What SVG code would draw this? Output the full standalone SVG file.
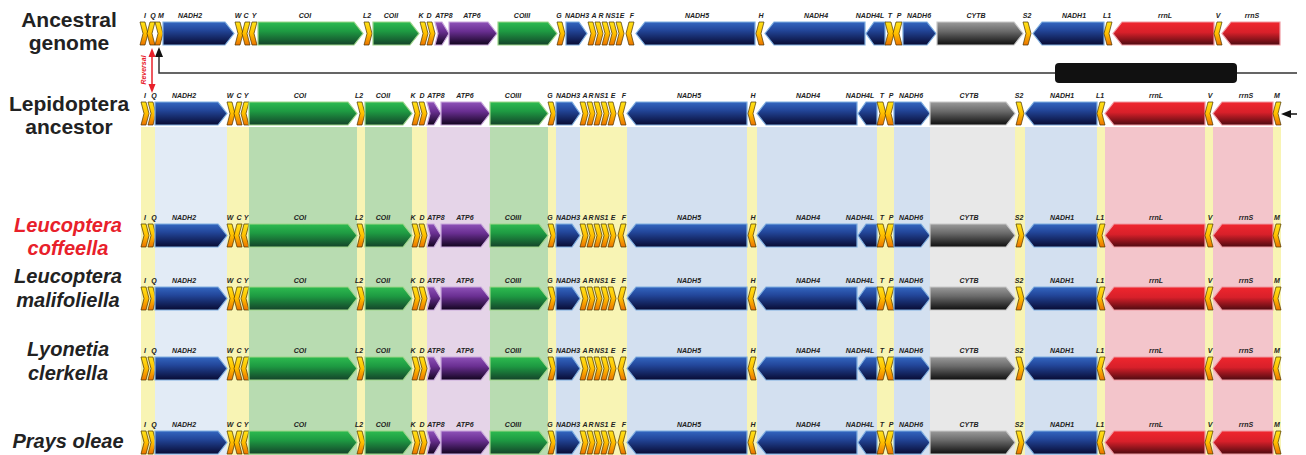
<svg xmlns="http://www.w3.org/2000/svg" width="1306" height="455" viewBox="0 0 1306 455">
<style>
.tr{fill:url(#gT);stroke:#4a3300;stroke-width:.7}
.bl{fill:url(#gB);stroke:#7eaee0;stroke-width:1.2}
.gr{fill:url(#gG);stroke:#9ed68a;stroke-width:1.2}
.pu{fill:url(#gP);stroke:#c9a8dc;stroke-width:1.2}
.gy{fill:url(#gY);stroke:#c8c8c8;stroke-width:1.2}
.rd{fill:url(#gR);stroke:#f09aa2;stroke-width:1.2}
.lab{font-family:"Liberation Sans",Arial,sans-serif;font-style:italic;font-weight:bold;font-size:7px;fill:#222;text-anchor:middle}
.sp{font-family:"Liberation Sans",Arial,sans-serif;font-weight:bold;font-size:20px;fill:#222;text-anchor:middle}
.big{font-size:21px}
.it{font-style:italic}
.bY{fill:#f8f4b4}.bB{fill:#d3e0f0}.bB2{fill:#e2ebf6}.bG{fill:#b8dcb1}.bP{fill:#e5d4e8}.bK{fill:#e8e8e8}.bR{fill:#f3c5cb}
</style>
<defs>
<linearGradient id="gT" x1="0" y1="0" x2="0" y2="1"><stop offset="0" stop-color="#ffe31a"/><stop offset="0.5" stop-color="#ffbf00"/><stop offset="1" stop-color="#ec7400"/></linearGradient>
<linearGradient id="gB" x1="0" y1="0" x2="0" y2="1"><stop offset="0" stop-color="#3366c0"/><stop offset="0.35" stop-color="#23479b"/><stop offset="1" stop-color="#080b33"/></linearGradient>
<linearGradient id="gG" x1="0" y1="0" x2="0" y2="1"><stop offset="0" stop-color="#2dbb50"/><stop offset="0.4" stop-color="#1e9a42"/><stop offset="1" stop-color="#14432a"/></linearGradient>
<linearGradient id="gP" x1="0" y1="0" x2="0" y2="1"><stop offset="0" stop-color="#8e52b8"/><stop offset="0.4" stop-color="#6a2f92"/><stop offset="1" stop-color="#12041e"/></linearGradient>
<linearGradient id="gY" x1="0" y1="0" x2="0" y2="1"><stop offset="0" stop-color="#9a9a9a"/><stop offset="0.4" stop-color="#6a6a6a"/><stop offset="1" stop-color="#0e0e0e"/></linearGradient>
<linearGradient id="gR" x1="0" y1="0" x2="0" y2="1"><stop offset="0" stop-color="#f0262e"/><stop offset="0.45" stop-color="#d8202a"/><stop offset="1" stop-color="#4e0a10"/></linearGradient>
<g id="shA">
<polygon class="tr" points="140,0 145,0 148,11.5 145,23 140,23 143,11.5"/>
<polygon class="tr" points="150,0 155,0 152,11.5 155,23 150,23 147,11.5"/>
<polygon class="tr" points="155,0 160,0 163,11.5 160,23 155,23 158,11.5"/>
<polygon class="bl" points="163,0 225,0 234,11.5 225,23 163,23"/>
<polygon class="tr" points="235,0 240,0 243,11.5 240,23 235,23 238,11.5"/>
<polygon class="tr" points="245,0 250,0 247,11.5 250,23 245,23 242,11.5"/>
<polygon class="tr" points="252,0 257,0 254,11.5 257,23 252,23 249,11.5"/>
<polygon class="gr" points="258,0 354,0 363,11.5 354,23 258,23"/>
<polygon class="tr" points="364,0 369,0 372,11.5 369,23 364,23 367,11.5"/>
<polygon class="gr" points="373,0 410,0 419,11.5 410,23 373,23"/>
<polygon class="tr" points="420,0 425,0 428,11.5 425,23 420,23 423,11.5"/>
<polygon class="tr" points="427,0 432,0 435,11.5 432,23 427,23 430,11.5"/>
<polygon class="pu" points="435,0 442,0 449,11.5 442,23 435,23 438,11.5"/>
<polygon class="pu" points="449,0 488,0 497,11.5 488,23 449,23"/>
<polygon class="gr" points="498,0 548,0 557,11.5 548,23 498,23"/>
<polygon class="tr" points="557,0 562,0 565,11.5 562,23 557,23 560,11.5"/>
<polygon class="bl" points="566,0 579,0 587,11.5 579,23 566,23"/>
<polygon class="tr" points="588,0 593,0 596,11.5 593,23 588,23 591,11.5"/>
<polygon class="tr" points="595,0 600,0 603,11.5 600,23 595,23 598,11.5"/>
<polygon class="tr" points="602,0 607,0 610,11.5 607,23 602,23 605,11.5"/>
<polygon class="tr" points="609,0 614,0 617,11.5 614,23 609,23 612,11.5"/>
<polygon class="tr" points="616,0 621,0 624,11.5 621,23 616,23 619,11.5"/>
<polygon class="tr" points="629,0 634,0 631,11.5 634,23 629,23 626,11.5"/>
<polygon class="bl" points="645,0 755,0 755,23 645,23 636,11.5"/>
<polygon class="tr" points="759,0 764,0 761,11.5 764,23 759,23 756,11.5"/>
<polygon class="bl" points="774,0 865,0 865,23 774,23 765,11.5"/>
<polygon class="bl" points="874,0 885,0 885,23 874,23 866,11.5"/>
<polygon class="tr" points="885,0 891,0 894,11.5 891,23 885,23 888,11.5"/>
<polygon class="tr" points="896,0 902,0 899,11.5 902,23 896,23 893,11.5"/>
<polygon class="bl" points="903,0 927,0 936,11.5 927,23 903,23"/>
<polygon class="gy" points="937,0 1014,0 1023,11.5 1014,23 937,23"/>
<polygon class="tr" points="1023,0 1028,0 1031,11.5 1028,23 1023,23 1026,11.5"/>
<polygon class="bl" points="1042,0 1104,0 1104,23 1042,23 1033,11.5"/>
<polygon class="tr" points="1107,0 1112,0 1109,11.5 1112,23 1107,23 1104,11.5"/>
<polygon class="rd" points="1122,0 1214,0 1214,23 1122,23 1113,11.5"/>
<polygon class="tr" points="1217,0 1222,0 1219,11.5 1222,23 1217,23 1214,11.5"/>
<polygon class="rd" points="1231,0 1280,0 1280,23 1231,23 1222,11.5"/>
</g>
<g id="shL">
<polygon class="tr" points="141,0 146,0 149,11.5 146,23 141,23 144,11.5"/>
<polygon class="tr" points="148,0 153,0 156,11.5 153,23 148,23 151,11.5"/>
<polygon class="bl" points="155,0 218,0 227,11.5 218,23 155,23"/>
<polygon class="tr" points="227,0 232,0 235,11.5 232,23 227,23 230,11.5"/>
<polygon class="tr" points="237,0 242,0 239,11.5 242,23 237,23 234,11.5"/>
<polygon class="tr" points="244,0 249,0 246,11.5 249,23 244,23 241,11.5"/>
<polygon class="gr" points="249,0 348,0 357,11.5 348,23 249,23"/>
<polygon class="tr" points="357,0 362,0 365,11.5 362,23 357,23 360,11.5"/>
<polygon class="gr" points="365,0 403,0 412,11.5 403,23 365,23"/>
<polygon class="tr" points="412,0 417,0 420,11.5 417,23 412,23 415,11.5"/>
<polygon class="tr" points="419,0 424,0 427,11.5 424,23 419,23 422,11.5"/>
<polygon class="pu" points="427,0 434,0 441,11.5 434,23 427,23 430,11.5"/>
<polygon class="pu" points="441,0 481,0 490,11.5 481,23 441,23"/>
<polygon class="gr" points="490,0 539,0 548,11.5 539,23 490,23"/>
<polygon class="tr" points="548,0 553,0 556,11.5 553,23 548,23 551,11.5"/>
<polygon class="bl" points="556,0 572,0 580,11.5 572,23 556,23"/>
<polygon class="tr" points="580,0 585,0 588,11.5 585,23 580,23 583,11.5"/>
<polygon class="tr" points="587,0 592,0 595,11.5 592,23 587,23 590,11.5"/>
<polygon class="tr" points="594,0 599,0 602,11.5 599,23 594,23 597,11.5"/>
<polygon class="tr" points="601,0 606,0 609,11.5 606,23 601,23 604,11.5"/>
<polygon class="tr" points="608,0 613,0 616,11.5 613,23 608,23 611,11.5"/>
<polygon class="tr" points="621,0 626,0 623,11.5 626,23 621,23 618,11.5"/>
<polygon class="bl" points="636,0 747,0 747,23 636,23 627,11.5"/>
<polygon class="tr" points="751,0 756,0 753,11.5 756,23 751,23 748,11.5"/>
<polygon class="bl" points="766,0 857,0 857,23 766,23 757,11.5"/>
<polygon class="bl" points="866,0 877,0 877,23 866,23 858,11.5"/>
<polygon class="tr" points="877,0 883,0 886,11.5 883,23 877,23 880,11.5"/>
<polygon class="tr" points="888,0 894,0 891,11.5 894,23 888,23 885,11.5"/>
<polygon class="bl" points="894,0 921,0 930,11.5 921,23 894,23"/>
<polygon class="gy" points="930,0 1006,0 1015,11.5 1006,23 930,23"/>
<polygon class="tr" points="1016,0 1021,0 1024,11.5 1021,23 1016,23 1019,11.5"/>
<polygon class="bl" points="1034,0 1097,0 1097,23 1034,23 1025,11.5"/>
<polygon class="tr" points="1100,0 1105,0 1102,11.5 1105,23 1100,23 1097,11.5"/>
<polygon class="rd" points="1114,0 1205,0 1205,23 1114,23 1105,11.5"/>
<polygon class="tr" points="1208,0 1213,0 1210,11.5 1213,23 1208,23 1205,11.5"/>
<polygon class="rd" points="1222,0 1273,0 1273,23 1222,23 1213,11.5"/>
<polygon class="tr" points="1276,0 1281,0 1278,11.5 1281,23 1276,23 1273,11.5"/>
</g>
</defs>
<rect width="1306" height="455" fill="#fff"/>
<g id="bands">
<rect class="bY" x="141" y="127" width="14" height="328"/>
<rect class="bB2" x="155" y="127" width="72" height="328"/>
<rect class="bY" x="227" y="127" width="22" height="328"/>
<rect class="bG" x="249" y="127" width="108" height="328"/>
<rect class="bY" x="357" y="127" width="8" height="328"/>
<rect class="bG" x="365" y="127" width="47" height="328"/>
<rect class="bY" x="412" y="127" width="15" height="328"/>
<rect class="bP" x="427" y="127" width="63" height="328"/>
<rect class="bG" x="490" y="127" width="58" height="328"/>
<rect class="bY" x="548" y="127" width="8" height="328"/>
<rect class="bB" x="556" y="127" width="24" height="328"/>
<rect class="bY" x="580" y="127" width="47" height="328"/>
<rect class="bB" x="627" y="127" width="120" height="328"/>
<rect class="bY" x="747" y="127" width="10" height="328"/>
<rect class="bB" x="757" y="127" width="120" height="328"/>
<rect class="bY" x="877" y="127" width="17" height="328"/>
<rect class="bB" x="894" y="127" width="36" height="328"/>
<rect class="bK" x="930" y="127" width="85" height="328"/>
<rect class="bY" x="1015" y="127" width="10" height="328"/>
<rect class="bB" x="1025" y="127" width="72" height="328"/>
<rect class="bY" x="1097" y="127" width="8" height="328"/>
<rect class="bR" x="1105" y="127" width="100" height="328"/>
<rect class="bY" x="1205" y="127" width="8" height="328"/>
<rect class="bR" x="1213" y="127" width="60" height="328"/>
<rect class="bY" x="1273" y="127" width="8" height="328"/>
</g>
<g id="connectors">
<path d="M1297,73 H159 V56" fill="none" stroke="#333" stroke-width="1.5"/>
<polygon points="159,47 155,57 163,57" fill="#111"/>
<rect x="1055" y="63" width="182" height="20" rx="4" fill="#111"/>
<line x1="1297" y1="114" x2="1289" y2="114" stroke="#111" stroke-width="1.5"/>
<polygon points="1281,114 1291,110 1291,118" fill="#111"/>
<line x1="152" y1="55" x2="152" y2="86" stroke="#e8202a" stroke-width="1.5"/>
<polygon points="152,48 148.5,57 155.5,57" fill="#e8202a"/>
<polygon points="152,93 148.5,84 155.5,84" fill="#e8202a"/>
<text x="146" y="70" transform="rotate(-90 146 70)" class="lab" style="fill:#e8202a">Reversal</text>
</g>
<g id="row-ancestral">
<text class="sp big" x="69" y="27">Ancestral</text>
<text class="sp big" x="69" y="50">genome</text>
<use href="#shA" transform="translate(0,22)"/>
<text class="lab" y="18"><tspan x="145">I</tspan><tspan x="153">Q</tspan><tspan x="161">M</tspan><tspan x="190">NADH2</tspan><tspan x="238">W</tspan><tspan x="246">C</tspan><tspan x="254">Y</tspan><tspan x="305">COI</tspan><tspan x="367">L2</tspan><tspan x="391">COII</tspan><tspan x="421">K</tspan><tspan x="429">D</tspan><tspan x="444">ATP8</tspan><tspan x="472">ATP6</tspan><tspan x="522">COIII</tspan><tspan x="559">G</tspan><tspan x="577">NADH3</tspan><tspan x="594">A</tspan><tspan x="601">R</tspan><tspan x="608">N</tspan><tspan x="615">S1</tspan><tspan x="622">E</tspan><tspan x="632">F</tspan><tspan x="697">NADH5</tspan><tspan x="761">H</tspan><tspan x="816">NADH4</tspan><tspan x="870">NADH4L</tspan><tspan x="890">T</tspan><tspan x="899">P</tspan><tspan x="919">NADH6</tspan><tspan x="976">CYTB</tspan><tspan x="1027">S2</tspan><tspan x="1074">NADH1</tspan><tspan x="1107">L1</tspan><tspan x="1165">rrnL</tspan><tspan x="1218">V</tspan><tspan x="1252">rrnS</tspan></text>
</g>
<g id="row-lepidoptera">
<text class="sp big" x="69" y="111">Lepidoptera</text>
<text class="sp big" x="69" y="134">ancestor</text>
<use href="#shL" transform="translate(0,102)"/>
<text class="lab" y="98"><tspan x="145">I</tspan><tspan x="154">Q</tspan><tspan x="184">NADH2</tspan><tspan x="230">W</tspan><tspan x="239">C</tspan><tspan x="246">Y</tspan><tspan x="300">COI</tspan><tspan x="359">L2</tspan><tspan x="383">COII</tspan><tspan x="413">K</tspan><tspan x="422">D</tspan><tspan x="436">ATP8</tspan><tspan x="465">ATP6</tspan><tspan x="513">COIII</tspan><tspan x="550">G</tspan><tspan x="568">NADH3</tspan><tspan x="585">A</tspan><tspan x="591">R</tspan><tspan x="597">N</tspan><tspan x="604">S1</tspan><tspan x="613">E</tspan><tspan x="624">F</tspan><tspan x="689">NADH5</tspan><tspan x="753">H</tspan><tspan x="808">NADH4</tspan><tspan x="860">NADH4L</tspan><tspan x="882">T</tspan><tspan x="891">P</tspan><tspan x="911">NADH6</tspan><tspan x="969">CYTB</tspan><tspan x="1019">S2</tspan><tspan x="1062">NADH1</tspan><tspan x="1100">L1</tspan><tspan x="1156">rrnL</tspan><tspan x="1210">V</tspan><tspan x="1246">rrnS</tspan><tspan x="1277">M</tspan></text>
</g>
<g id="row-leucoptera-coffeella">
<text class="sp it" x="68" y="232" style="fill:#e8202a">Leucoptera</text>
<text class="sp it" x="68" y="255" style="fill:#e8202a">coffeella</text>
<use href="#shL" transform="translate(0,224)"/>
<text class="lab" y="220"><tspan x="145">I</tspan><tspan x="154">Q</tspan><tspan x="184">NADH2</tspan><tspan x="230">W</tspan><tspan x="239">C</tspan><tspan x="246">Y</tspan><tspan x="300">COI</tspan><tspan x="359">L2</tspan><tspan x="383">COII</tspan><tspan x="413">K</tspan><tspan x="422">D</tspan><tspan x="436">ATP8</tspan><tspan x="465">ATP6</tspan><tspan x="513">COIII</tspan><tspan x="550">G</tspan><tspan x="568">NADH3</tspan><tspan x="585">A</tspan><tspan x="591">R</tspan><tspan x="597">N</tspan><tspan x="604">S1</tspan><tspan x="613">E</tspan><tspan x="624">F</tspan><tspan x="689">NADH5</tspan><tspan x="753">H</tspan><tspan x="808">NADH4</tspan><tspan x="860">NADH4L</tspan><tspan x="882">T</tspan><tspan x="891">P</tspan><tspan x="911">NADH6</tspan><tspan x="969">CYTB</tspan><tspan x="1019">S2</tspan><tspan x="1062">NADH1</tspan><tspan x="1100">L1</tspan><tspan x="1156">rrnL</tspan><tspan x="1210">V</tspan><tspan x="1246">rrnS</tspan><tspan x="1277">M</tspan></text>
</g>
<g id="row-leucoptera-malifoliella">
<text class="sp it" x="68" y="283">Leucoptera</text>
<text class="sp it" x="68" y="307">malifoliella</text>
<use href="#shL" transform="translate(0,287)"/>
<text class="lab" y="283"><tspan x="145">I</tspan><tspan x="154">Q</tspan><tspan x="184">NADH2</tspan><tspan x="230">W</tspan><tspan x="239">C</tspan><tspan x="246">Y</tspan><tspan x="300">COI</tspan><tspan x="359">L2</tspan><tspan x="383">COII</tspan><tspan x="413">K</tspan><tspan x="422">D</tspan><tspan x="436">ATP8</tspan><tspan x="465">ATP6</tspan><tspan x="513">COIII</tspan><tspan x="550">G</tspan><tspan x="568">NADH3</tspan><tspan x="585">A</tspan><tspan x="591">R</tspan><tspan x="597">N</tspan><tspan x="604">S1</tspan><tspan x="613">E</tspan><tspan x="624">F</tspan><tspan x="689">NADH5</tspan><tspan x="753">H</tspan><tspan x="808">NADH4</tspan><tspan x="860">NADH4L</tspan><tspan x="882">T</tspan><tspan x="891">P</tspan><tspan x="911">NADH6</tspan><tspan x="969">CYTB</tspan><tspan x="1019">S2</tspan><tspan x="1062">NADH1</tspan><tspan x="1100">L1</tspan><tspan x="1156">rrnL</tspan><tspan x="1210">V</tspan><tspan x="1246">rrnS</tspan><tspan x="1277">M</tspan></text>
</g>
<g id="row-lyonetia-clerkella">
<text class="sp it" x="68" y="356">Lyonetia</text>
<text class="sp it" x="68" y="380">clerkella</text>
<use href="#shL" transform="translate(0,357)"/>
<text class="lab" y="353"><tspan x="145">I</tspan><tspan x="154">Q</tspan><tspan x="184">NADH2</tspan><tspan x="230">W</tspan><tspan x="239">C</tspan><tspan x="246">Y</tspan><tspan x="300">COI</tspan><tspan x="359">L2</tspan><tspan x="383">COII</tspan><tspan x="413">K</tspan><tspan x="422">D</tspan><tspan x="436">ATP8</tspan><tspan x="465">ATP6</tspan><tspan x="513">COIII</tspan><tspan x="550">G</tspan><tspan x="568">NADH3</tspan><tspan x="585">A</tspan><tspan x="591">R</tspan><tspan x="597">N</tspan><tspan x="604">S1</tspan><tspan x="613">E</tspan><tspan x="624">F</tspan><tspan x="689">NADH5</tspan><tspan x="753">H</tspan><tspan x="808">NADH4</tspan><tspan x="860">NADH4L</tspan><tspan x="882">T</tspan><tspan x="891">P</tspan><tspan x="911">NADH6</tspan><tspan x="969">CYTB</tspan><tspan x="1019">S2</tspan><tspan x="1062">NADH1</tspan><tspan x="1100">L1</tspan><tspan x="1156">rrnL</tspan><tspan x="1210">V</tspan><tspan x="1246">rrnS</tspan><tspan x="1277">M</tspan></text>
</g>
<g id="row-prays-oleae">
<text class="sp it" x="68" y="448">Prays oleae</text>
<use href="#shL" transform="translate(0,431)"/>
<text class="lab" y="427"><tspan x="145">I</tspan><tspan x="154">Q</tspan><tspan x="184">NADH2</tspan><tspan x="230">W</tspan><tspan x="239">C</tspan><tspan x="246">Y</tspan><tspan x="300">COI</tspan><tspan x="359">L2</tspan><tspan x="383">COII</tspan><tspan x="413">K</tspan><tspan x="422">D</tspan><tspan x="436">ATP8</tspan><tspan x="465">ATP6</tspan><tspan x="513">COIII</tspan><tspan x="550">G</tspan><tspan x="568">NADH3</tspan><tspan x="585">A</tspan><tspan x="591">R</tspan><tspan x="597">N</tspan><tspan x="604">S1</tspan><tspan x="613">E</tspan><tspan x="624">F</tspan><tspan x="689">NADH5</tspan><tspan x="753">H</tspan><tspan x="808">NADH4</tspan><tspan x="860">NADH4L</tspan><tspan x="882">T</tspan><tspan x="891">P</tspan><tspan x="911">NADH6</tspan><tspan x="969">CYTB</tspan><tspan x="1019">S2</tspan><tspan x="1062">NADH1</tspan><tspan x="1100">L1</tspan><tspan x="1156">rrnL</tspan><tspan x="1210">V</tspan><tspan x="1246">rrnS</tspan><tspan x="1277">M</tspan></text>
</g>
</svg>
